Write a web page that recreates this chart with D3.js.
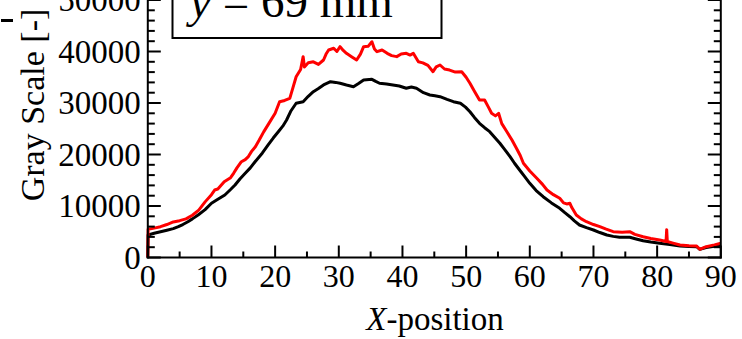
<!DOCTYPE html>
<html><head><meta charset="utf-8">
<script src="https://cdn.jsdelivr.net/npm/d3@7"></script>
<style>
html,body{margin:0;padding:0;background:#fff;}
svg{display:block;}
text{font-family:"Liberation Serif","Times New Roman",serif;fill:#000;}
</style></head>
<body>
<svg id="c" width="742" height="339"></svg>
<script>
// ---- data ----
const xTicks = [0,10,20,30,40,50,60,70,80,90];
const yTicks = [0,10000,20000,30000,40000,50000];
const legendText = "69 mm";
const blackX = [0,0.05,1,2,3,4,4.8,5.5,6.3,7,7.9,9,10,11,12.1,13,13.7,14.5,15.3,16.1,16.85,18,18.9,19.7,20.5,21.2,21.8,22.5,23.3,24.4,25.2,26,26.8,27.6,28.7,29.5,30.2,31.2,32.3,33.1,33.9,35.2,35.8,36.4,37.5,38.5,39.5,40.6,41.4,42.2,43.3,44.3,45.1,45.9,47,48,49.1,49.9,50.6,51.3,52.1,52.9,53.7,54.5,55.3,56.1,56.9,57.6,58.4,59.2,60,61,62.1,63.4,64.7,65.5,66.3,67,67.8,68.9,70,71,72.1,73.1,74.1,75.7,76.7,77.8,79,80.4,82,83.6,85,86.2,86.7,87.7,89,90];
const blackY = [0,4370,4700,5010,5300,5600,5980,6400,6950,7500,8250,9300,10530,11300,12140,13200,14080,15300,16350,17400,18600,20300,21850,23200,24430,25500,26700,28500,29950,30250,31300,32200,32800,33500,34140,34000,33830,33500,33170,33800,34470,34600,34200,33830,33700,33500,33300,32860,33100,32860,32000,31560,31400,31230,30700,30250,29950,29200,28300,27200,26060,25200,24430,23300,22180,20900,19570,18300,16990,15700,14400,13000,11800,10600,9550,8700,7920,7100,6310,5800,5340,4850,4370,4100,3920,3920,3600,3260,3000,2760,2500,2230,2150,2100,1590,1950,2200,2430];
const redX = [0,0.05,1,2,3,4,5,6,7,8,9,10,10.5,11,12,13,13.5,14,14.7,15.3,15.8,16.3,16.9,17.5,18.2,19,20,20.7,21.5,22.3,22.8,23.3,24,24.4,24.6,25.2,26,26.8,27.6,28,28.4,29.2,29.7,30.2,30.7,31.2,32,32.8,33.4,33.9,34.6,35.2,35.6,36,36.8,37.6,38.3,39.1,39.8,40.6,41.2,41.7,42.5,43.2,44,44.8,45.3,45.9,46.6,47.4,48.3,49.3,50,50.6,51.3,52.1,52.9,53.5,54,54.6,55.1,55.6,56.4,57.2,57.9,58.5,59,60,61.1,62,62.7,63.7,64.7,65.3,65.8,66.3,66.6,67.3,68.1,68.9,70,71,72,73.1,74.5,75.7,76.5,77.8,79,80.4,81.4,81.5,81.6,82.5,83.6,85,86.2,86.7,87.7,89,90];
const redY = [0,5470,5700,5980,6400,6900,7150,7500,8200,9200,10800,12200,13100,13300,14700,15500,16400,17400,18600,19000,19600,20600,21500,22800,24400,26000,28000,30250,30500,30900,33000,35100,36500,39000,37000,37800,38000,37500,38350,39500,40300,40630,40000,40940,40200,39650,39000,38350,39500,40940,41000,41900,40500,39970,40300,39650,39200,39000,39500,39650,39300,39650,38020,37800,37300,36080,37000,37380,36600,36400,36000,36080,35000,33830,32300,30590,30590,29200,28000,27500,28000,26000,24430,22800,21200,19800,18300,16800,15380,14200,13100,12200,11500,10600,10400,10530,9700,8250,7500,6950,6400,5980,5500,5010,4900,5010,4500,4040,3700,3400,3100,5400,3100,2800,2430,2300,2230,1590,2100,2450,2760];

// ---- layout ----
const svg = d3.select("#c");
const x = d3.scaleLinear().domain([0,90]).range([147.8,720.8]);
const y = d3.scaleLinear().domain([0,50000]).range([257.5,0]);
const x0 = x(0), x1 = x(90), yb = y(0);

const minorX = d3.range(5,90,10);
const minorY = d3.range(0,52001,2000).filter(v => v % 10000 !== 0);

// series
const line = d3.line().x(d => x(d[0])).y(d => y(d[1]));
const g = svg.append("g");
g.append("path").datum(d3.zip(blackX,blackY)).attr("d",line)
  .attr("fill","none").attr("stroke","#000").attr("stroke-width",3).attr("stroke-linejoin","round");
g.append("path").datum(d3.zip(redX,redY)).attr("d",line)
  .attr("fill","none").attr("stroke","#ff0000").attr("stroke-width",3).attr("stroke-linejoin","round");

// axes frame
const ax = svg.append("g").attr("stroke","#000").attr("stroke-width",2);
ax.append("line").attr("x1",x0).attr("x2",x0).attr("y1",-5).attr("y2",yb+1);
ax.append("line").attr("x1",x1).attr("x2",x1).attr("y1",-5).attr("y2",yb+1);
ax.append("line").attr("x1",x0-1).attr("x2",x1+1).attr("y1",yb).attr("y2",yb);

// x ticks
ax.selectAll(".xM").data(xTicks).enter().append("line")
  .attr("x1",d=>x(d)).attr("x2",d=>x(d)).attr("y1",yb).attr("y2",yb-12);
ax.selectAll(".xm").data(minorX).enter().append("line")
  .attr("x1",d=>x(d)).attr("x2",d=>x(d)).attr("y1",yb).attr("y2",yb-6);
// y ticks left and right
ax.selectAll(".yM").data(yTicks).enter().append("line")
  .attr("x1",x0).attr("x2",x0+13).attr("y1",d=>y(d)).attr("y2",d=>y(d));
ax.selectAll(".ym").data(minorY).enter().append("line")
  .attr("x1",x0).attr("x2",x0+7).attr("y1",d=>y(d)).attr("y2",d=>y(d));
ax.selectAll(".yMr").data(yTicks).enter().append("line")
  .attr("x1",x1).attr("x2",x1-13).attr("y1",d=>y(d)).attr("y2",d=>y(d));
ax.selectAll(".ymr").data(minorY).enter().append("line")
  .attr("x1",x1).attr("x2",x1-7).attr("y1",d=>y(d)).attr("y2",d=>y(d));

// tick labels
svg.selectAll(".xl").data(xTicks).enter().append("text")
  .attr("x",d=>x(d)).attr("y",287).attr("text-anchor","middle")
  .style("font-size","32px").text(d=>d);
svg.selectAll(".yl").data(yTicks).enter().append("text")
  .attr("x",x0-7).attr("y",d=>y(d)).attr("dy","0.34em").attr("text-anchor","end")
  .style("font-size","33px").text(d=>d);

// axis titles
const xt = svg.append("text").attr("x",435).attr("y",330).attr("text-anchor","middle").style("font-size","33px");
xt.append("tspan").style("font-style","italic").text("X");
xt.append("tspan").text("-position");
svg.append("text").attr("transform","translate(44,105) rotate(-90)")
  .attr("text-anchor","middle").style("font-size","34px").text("Gray Scale [-]");
svg.append("line").attr("x1",1).attr("x2",13).attr("y1",20.5).attr("y2",20.5).attr("stroke","#000").attr("stroke-width",3);

// legend box
svg.append("rect").attr("x",172.5).attr("y",-20).attr("width",269).attr("height",58)
  .attr("fill","#fff").attr("stroke","#000").attr("stroke-width",2);
const lt = svg.append("text").attr("x",190).attr("y",17).style("font-size","47px");
lt.append("tspan").style("font-style","italic").text("y");
lt.append("tspan").text(" = " + legendText);
</script>
</body></html>
